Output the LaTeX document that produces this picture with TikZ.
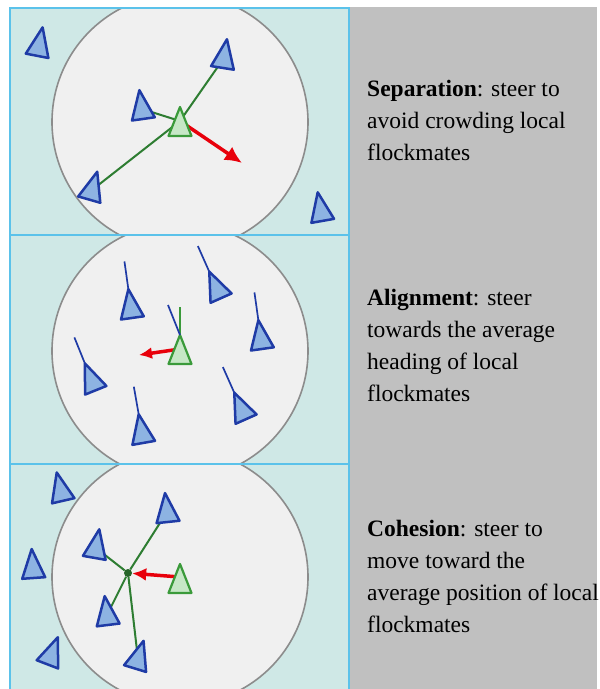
\documentclass[tikz,border=0pt]{standalone}
\usepackage{fontspec}
\setmainfont{Liberation Serif}
\usetikzlibrary{arrows.meta}
\definecolor{panelfill}{HTML}{CFE8E6}
\definecolor{panelline}{HTML}{5BC2EA}
\definecolor{zonefill}{HTML}{F0F0F0}
\definecolor{zoneline}{HTML}{8C8C8C}
\definecolor{matefill}{HTML}{8DB3E2}
\definecolor{mateline}{HTML}{1F3BA6}
\definecolor{focalfill}{HTML}{C6E7C6}
\definecolor{focalline}{HTML}{3A9A3A}
\definecolor{linkgreen}{HTML}{2E7D32}
\definecolor{steerred}{HTML}{E8000B}
\definecolor{colgray}{HTML}{C0C0C0}
\tikzset{
  panel/.style={draw=panelline, line width=2.2pt},
  zone/.style={fill=zonefill, draw=zoneline, line width=1.6pt},
  flockmate/.style={draw=mateline, fill=matefill, line width=2.5pt, line join=round},
  focal/.style={draw=focalline, fill=focalfill, line width=2.2pt, line join=round},
  mateheading/.style={draw=mateline, line width=1.7pt},
  focalheading/.style={draw=focalline, line width=1.7pt},
  link/.style={draw=linkgreen, line width=2pt},
  hubdot/.style={circle, fill=linkgreen!80!black, inner sep=0pt, minimum size=8pt},
  steer/.style={-{Latex[length=17pt, width=16pt]}, draw=steerred, line width=3.5pt},
  rule/.style={anchor=base west, align=left, inner sep=0pt, font=\fontsize{23.5}{31.7}\selectfont},
  pics/boid/.style={code={
    \coordinate (-tip) at (0,-19);
    \draw[#1] (0,-19) -- (-11.5,10) -- (11.5,10) -- cycle;
  }},
  pics/boid/.default=flockmate,
  pics/heading/.style={code={
    \draw[#1] (0,-19) -- (0,-47);
  }},
  pics/heading/.default=mateheading
}
\begin{document}
\begin{tikzpicture}[x=1pt, y=-1pt]
    \useasboundingbox (0,0) rectangle (600,689);
    \clip (0,0) rectangle (600,689);
    \fill[white] (0,0) rectangle (600,689);
    \fill[colgray] (350,7) rectangle (597,700);

    % panels with the neighbourhood circles
    \foreach \top/\bot/\cy in {8/235/122, 235/464/351, 464/700/577} {
      \begin{scope}
        \clip (10,\top) rectangle (349,\bot);
        \fill[panelfill] (10,\top) rectangle (349,\bot);
        \draw[zone] (180,\cy) circle[radius=128];
      \end{scope}
    }
    \draw[panel] (10,8) rectangle (349,700);
    \draw[panel] (10,235) -- (349,235);
    \draw[panel] (10,464) -- (349,464);

    % separation
    \coordinate (s0) at (180,126);
    \coordinate (s1) at (39,46);
    \coordinate (s2) at (224,58);
    \coordinate (s3) at (142,109);
    \coordinate (s4) at (92,190);
    \coordinate (s5) at (321,211);
    \coordinate (sep-tip) at (242,163);
    \draw[link] ([yshift=5pt]s0) -- (s2);
    \draw[link] ([yshift=5pt]s0) -- (s3);
    \draw[link] ([yshift=5pt]s0) -- (s4);
    \draw[steer] ([yshift=5pt]s0) -- (sep-tip);
    \foreach \name/\ang in {s1/-11, s2/-9, s3/8, s4/-16, s5/10}
      \pic[rotate=\ang] at (\name) {boid};
    \pic at (s0) {boid=focal};

    % alignment
    \coordinate (a0) at (180,354);
    \coordinate (a1) at (131,308);
    \coordinate (a2) at (217,289);
    \coordinate (a3) at (261,339);
    \coordinate (a4) at (92,381);
    \coordinate (a5) at (142,433);
    \coordinate (a6) at (242,410);
    \coordinate (ali-tip) at (139,355);
    \draw[steer, -{Latex[length=13pt, width=12pt]}] ([yshift=5pt]a0) -- (ali-tip);
    \foreach \name/\ang in {a1/8, a2/24, a3/8, a4/22, a5/10, a6/24} {
      \pic[rotate=\ang] at (\name) {heading};
      \pic[rotate=\ang] at (\name) {boid};
    }
    \pic at (a0) {heading=focalheading};
    \pic (lead) at (a0) {boid=focal};
    \draw[mateheading] (lead-tip) -- ++(-12,-30);

    % cohesion
    \coordinate (c0) at (180,583);
    \coordinate (c1) at (61,491);
    \coordinate (c2) at (33,568);
    \coordinate (c3) at (51,655);
    \coordinate (c4) at (167,512);
    \coordinate (c5) at (96,548);
    \coordinate (c6) at (107,615);
    \coordinate (c7) at (138,659);
    \node[hubdot] (avg) at (128,573) {};
    \foreach \name in {c4, c5, c6, c7}
      \draw[link] (avg) -- (\name);
    \draw[steer, -{Latex[length=14pt, width=13pt]}] ([yshift=6pt]c0) -- (avg);
    \foreach \name/\ang in {c1/13, c2/4, c3/-21, c4/6, c5/-10, c6/7, c7/-17}
      \pic[rotate=\ang] at (\name) {boid};
    \pic at (c0) {boid=focal};

    % rules (anchored on the baseline of the last line)
    \node[rule] (sep) at (367,160) {\textbf{Separation}: steer to\\avoid crowding local\\flockmates};
    \node[rule] (ali) at (367,401) {\textbf{Alignment}: steer\\towards the average\\heading of local\\flockmates};
    \node[rule] (coh) at (367,632) {\textbf{Cohesion}: steer to\\move toward the\\average position of local\\flockmates};
\end{tikzpicture}
\end{document}
